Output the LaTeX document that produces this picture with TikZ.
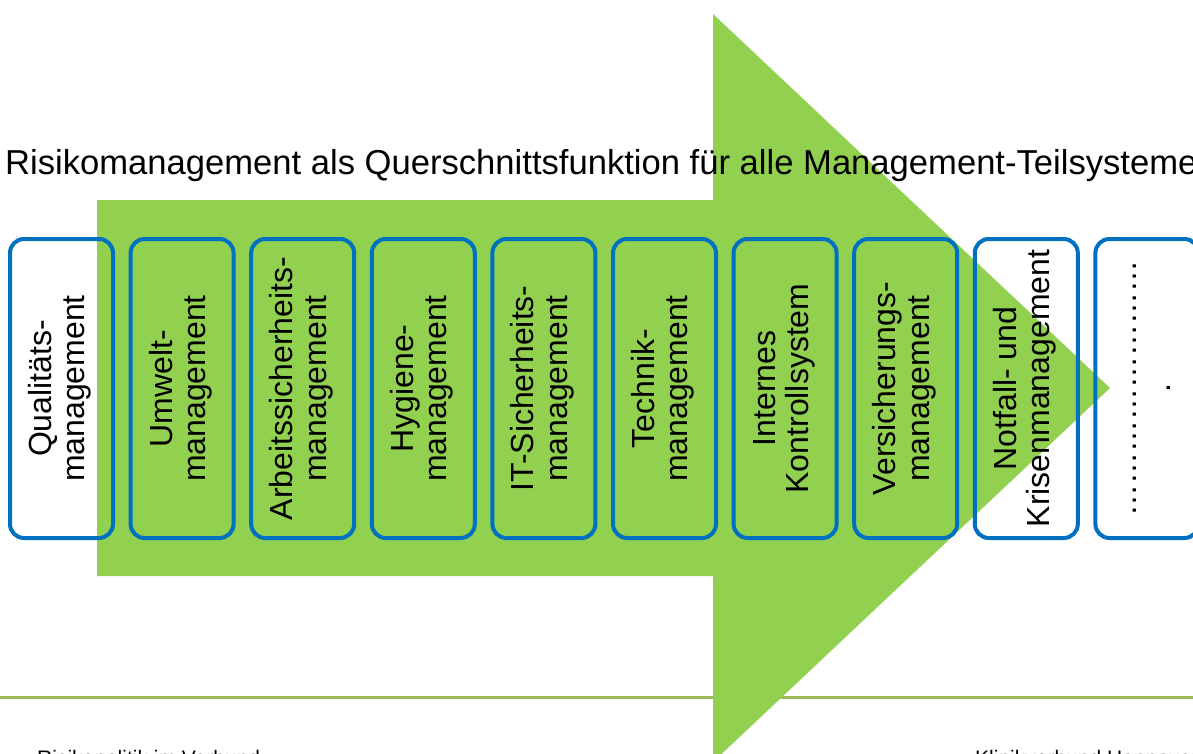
\documentclass[tikz,border=0pt]{standalone}
\usepackage{fontspec}
\setmainfont{Liberation Sans}
\usetikzlibrary{positioning}
\definecolor{arrowgreen}{HTML}{92D050}
\definecolor{boxblue}{HTML}{0070C0}
\definecolor{rulegreen}{HTML}{9BBB59}
\newcommand{\uptext}[1]{\rotatebox{90}{\begin{tabular}{@{}c@{}}#1\end{tabular}}}
\tikzset{
  mgmt box/.style={
    draw=boxblue,
    line width=4pt,
    rounded corners=14pt,
    minimum width=103pt,
    minimum height=299pt,
    inner sep=0pt,
    outer sep=0pt,
    font=\fontsize{32}{33.5}\selectfont
  },
  my row/.style={
    node distance=17.6pt
  }
}

\begin{document}
\begin{tikzpicture}[x=1pt,y=-1pt,my row]
\useasboundingbox (0,0) rectangle (1193,754);
% footer rule and big arrow
\draw[rulegreen,line width=3pt] (0,697) -- (1193,697);
\fill[arrowgreen] (97,200) -- (713,200) -- (713,14) -- (1110,388)
  -- (713,762) -- (713,576) -- (97,576) -- cycle;
% title
\node[anchor=base west,inner sep=0pt,font=\fontsize{34.6}{40}\selectfont] (title) at (5,175)
  {Risikomanagement als Querschnittsfunktion für alle Management-Teilsysteme};
% management boxes
\node[mgmt box] (qm) at (61.5,388.5) {\uptext{Qualitäts-\\management}};
\node[mgmt box] (um)   [right=of qm]   {\uptext{Umwelt-\\management}};
\node[mgmt box] (asm)  [right=of um]   {\uptext{Arbeitssicherheits-\\management}};
\node[mgmt box] (hm)   [right=of asm]  {\uptext{Hygiene-\\management}};
\node[mgmt box] (itsm) [right=of hm]   {\uptext{IT-Sicherheits-\\management}};
\node[mgmt box] (tm)   [right=of itsm] {\uptext{Technik-\\management}};
\node[mgmt box] (iks)  [right=of tm]   {\uptext{Internes\\Kontrollsystem}};
\node[mgmt box] (vm)   [right=of iks]  {\uptext{Versicherungs-\\management}};
\node[mgmt box] (nkm)  [right=of vm]   {\uptext{Notfall- und\\Krisenmanagement}};
\node[mgmt box] (more) [right=of nkm]  {\uptext{……………………\\.}};
% footer texts
\node[anchor=base west,inner sep=0pt,font=\fontsize{21}{24}\selectfont] (foot left) at (37,765)
  {Risikopolitik im Verbund};
\node[anchor=base west,inner sep=0pt,font=\fontsize{21}{24}\selectfont] (foot right) at (975,765)
  {Klinikverbund Hannover};
\end{tikzpicture}
\end{document}
